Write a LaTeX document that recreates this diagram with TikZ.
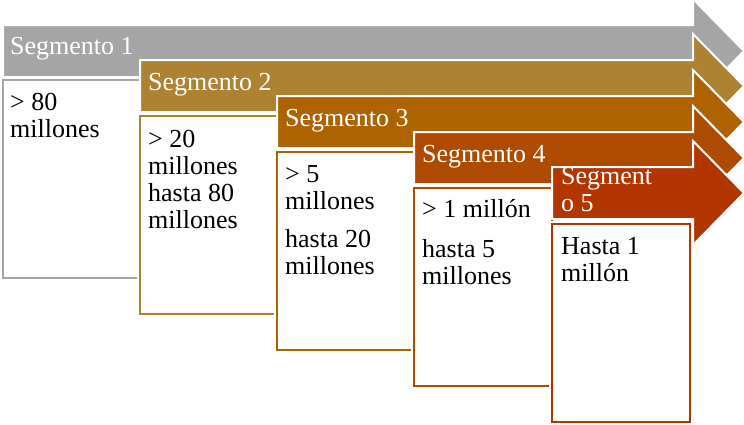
\documentclass[tikz,border=0pt]{standalone}
\usepackage{fontspec}
\setmainfont{Liberation Serif}
\definecolor{cA}{HTML}{A5A5A5}
\definecolor{cB}{HTML}{AD8233}
\definecolor{cC}{HTML}{AC6300}
\definecolor{cD}{HTML}{AF4B00}
\definecolor{cE}{HTML}{B33500}
\begin{document}
\begin{tikzpicture}[x=1pt,y=-1pt,
  segarrow/.style={fill=#1, draw=white, line width=2pt, line join=miter},
  segbox/.style={fill=white, draw=#1, line width=2pt, preaction={draw=white, line width=6pt}},
  seglabel/.style={anchor=north west, inner sep=0pt, text=white, align=left,
    font=\fontsize{26}{27}\selectfont},
  boxtext/.style={anchor=north west, inner sep=0pt, text=black, align=left,
    font=\fontsize{26}{27}\selectfont}]
\useasboundingbox (0,0) rectangle (744,424);
% Segment 1
\draw[segarrow=cA] (3,25) -- (693,25) -- (693,-1) -- (744,51) -- (693,103) -- (693,77) -- (3,77) -- cycle;
\node[seglabel] (seg1) at (10,35) {\strut Segmento 1};
\draw[segbox=cA] (3,80) rectangle (141,278);
\node[boxtext] (t1) at (10,91) {\strut > 80\\millones};
% Segment 2
\draw[segarrow=cB] (140,60) -- (693,60) -- (693,34) -- (744,86) -- (693,138) -- (693,112) -- (140,112) -- cycle;
\node[seglabel] (seg2) at (148,71) {\strut Segmento 2};
\draw[segbox=cB] (140,116) rectangle (278,314);
\node[boxtext] (t2) at (148,128) {\strut > 20\\millones\\hasta 80\\millones};
% Segment 3
\draw[segarrow=cC] (277,96) -- (693,96) -- (693,70) -- (744,122) -- (693,174) -- (693,148) -- (277,148) -- cycle;
\node[seglabel] (seg3) at (285,107) {\strut Segmento 3};
\draw[segbox=cC] (277,152) rectangle (415,350);
\node[boxtext] (t3) at (285,163) {\strut > 5\\millones\\[11pt]hasta 20\\millones};
% Segment 4
\draw[segarrow=cD] (414,132) -- (693,132) -- (693,106) -- (744,158) -- (693,210) -- (693,184) -- (414,184) -- cycle;
\node[seglabel] (seg4) at (422,143) {\strut Segmento 4};
\draw[segbox=cD] (414,188) rectangle (552,386);
\node[boxtext] (t4) at (422,198) {\strut > 1 millón\\[13pt]hasta 5\\millones};
% Segment 5
\draw[segarrow=cE] (552,167) -- (693,167) -- (693,141) -- (744,193) -- (693,245) -- (693,219) -- (552,219) -- cycle;
\node[seglabel] (seg5) at (561,165) {\strut Segment\\o 5};
\draw[segbox=cE] (552,224) rectangle (690,422);
\node[boxtext] (t5) at (561,235) {\strut Hasta 1\\millón};
\end{tikzpicture}
\end{document}
